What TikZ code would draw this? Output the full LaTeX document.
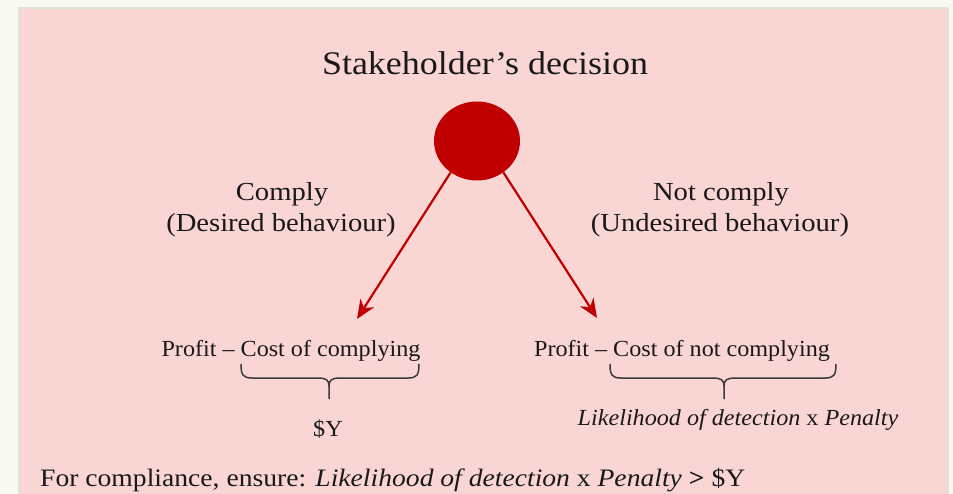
\documentclass[tikz,border=0pt]{standalone}
\usepackage{fontspec}
\setmainfont{Liberation Serif}
\newfontfamily\serifwide[FakeStretch=1.1]{Liberation Serif}
\newfontfamily\serifmid[FakeStretch=1.09]{Liberation Serif}
\newfontfamily\serifnarrow[FakeStretch=1.05]{Liberation Serif}
\usetikzlibrary{arrows.meta,shapes.geometric}
\definecolor{pagebg}{HTML}{F8F9F3}
\definecolor{panel}{HTML}{F9D6D3}
\definecolor{panelrim}{HTML}{DCE6D2}
\definecolor{deepred}{HTML}{C00000}
\definecolor{bracegray}{HTML}{3A3A3A}
\tikzset{
  txt/.style={inner sep=0pt, anchor=base, text=black!90},
  big/.style={txt, font=\serifmid\fontsize{33}{37}\selectfont},
  mid/.style={txt, font=\serifwide\fontsize{26}{30}\selectfont},
  rulefont/.style={txt, font=\serifwide\fontsize{25.1}{29}\selectfont},
  small/.style={txt, font=\serifnarrow\fontsize{23}{27}\selectfont},
  choice/.style={draw=deepred, line width=2.2pt, -{Stealth[length=19pt,width=16pt,inset=6pt]}},
  bracket/.style={draw=bracegray, line width=1.5pt}
}
\begin{document}
\begin{tikzpicture}[x=1pt,y=-1pt]
  % page and panel
  \fill[pagebg] (0,0) rectangle (953,494);
  \useasboundingbox (0,0) rectangle (953,494);
  \filldraw[fill=panel, draw=panelrim, line width=2pt] (19,8) rectangle (948,510);

  % title and decision point
  \node[big] (title) at (485,75) {Stakeholder’s decision};
  \node[ellipse, fill=deepred, minimum width=86pt, minimum height=79pt, inner sep=0pt] (dec) at (477,141) {};

  % branch labels
  \node[mid] (comply) at (282,201) {Comply};
  \node[mid] (desired) at (281,232) {(Desired behaviour)};
  \node[mid] (notcomply) at (721,201) {Not comply};
  \node[mid] (undesired) at (720,232) {(Undesired behaviour)};

  % outcomes
  \coordinate (leftend) at (357,319);
  \coordinate (rightend) at (597,318);
  \path[choice] (dec.-130) -- (leftend);
  \path[choice] (dec.-50) -- (rightend);

  \node[small] (payL) at (291,356) {Profit – Cost of complying};
  \node[small] (payR) at (682,356) {Profit – Cost of not complying};

  % braces under the cost terms
  \path[bracket] (241,364) .. controls (241,375) and (243,378) .. (252,378) -- (318,378)
     .. controls (326,378) and (329,380) .. (329,386) -- (329,399);
  \path[bracket] (329,386) .. controls (329,380) and (332,378) .. (340,378) -- (408,378)
     .. controls (417,378) and (419,375) .. (419,364);
  \path[bracket] (610,364) .. controls (610,375) and (612,378) .. (621,378) -- (713,378)
     .. controls (721,378) and (724,380) .. (724,386) -- (724,399);
  \path[bracket] (724,386) .. controls (724,380) and (727,378) .. (735,378) -- (825,378)
     .. controls (834,378) and (836,375) .. (836,364);

  \node[small] (costY) at (328,436) {\$Y};
  \node[small] (risk) at (738,425) {\textit{Likelihood of detection} x \textit{Penalty}};

  % condition
  \node[rulefont, anchor=base west] (rule) at (40,486) {For compliance, ensure: \textit{Likelihood of detection} x \textit{Penalty} \textbf{>} \$Y};
\end{tikzpicture}
\end{document}
